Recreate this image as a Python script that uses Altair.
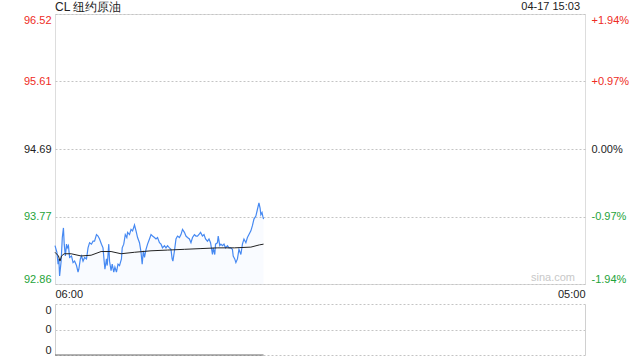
import altair as alt
import pandas as pd

# ---- data ----
minutes = [0, 5, 8, 10, 12, 16, 19, 22, 24, 27, 30, 32, 35, 38, 43, 47, 51, 56, 60, 62,
           66, 69, 73, 77, 82, 86, 90, 95, 99, 103, 108, 112, 116, 121, 125, 128, 130, 134, 136, 140,
           142, 146, 149, 153, 156, 160, 164, 168, 173, 175, 179, 183, 187, 189, 194, 198, 202, 207, 211, 215,
           220, 224, 227, 230, 233, 237, 241, 246, 250, 254, 259, 263, 267, 272, 276, 280, 285, 289, 293, 298,
           302, 305, 307, 311, 315, 319, 324, 328, 332, 337, 341, 345, 350, 354, 358, 363, 367, 371, 376, 379,
           384, 388, 392, 397, 401, 405, 410, 412, 416, 418, 423, 425, 429, 432, 436, 440, 444, 449, 453, 457,
           462, 464, 468, 471, 475, 479, 484, 488, 492, 497, 501, 505, 510, 514, 518, 523, 527, 531, 534, 536,
           539, 541, 543]
prices = [93.38, 93.29, 93.13, 93.20, 92.97, 93.17, 93.49, 93.62, 93.40, 93.24, 93.40, 93.35, 93.38, 93.22, 93.24, 93.15, 93.17, 93.11, 93.02, 93.06,
          93.20, 93.24, 93.17, 93.22, 93.20, 93.35, 93.42, 93.40, 93.44, 93.44, 93.53, 93.51, 93.47, 93.40, 93.35, 93.17, 93.06, 93.20, 93.11, 93.40,
          93.17, 93.04, 93.13, 93.02, 93.09, 93.02, 93.13, 93.11, 93.20, 93.35, 93.40, 93.53, 93.49, 93.56, 93.53, 93.60, 93.58, 93.66, 93.58, 93.49,
          93.42, 93.29, 93.13, 93.31, 93.22, 93.33, 93.40, 93.47, 93.53, 93.51, 93.49, 93.47, 93.49, 93.42, 93.40, 93.35, 93.38, 93.35, 93.38, 93.35,
          93.33, 93.20, 93.17, 93.31, 93.47, 93.51, 93.49, 93.53, 93.60, 93.56, 93.51, 93.49, 93.47, 93.42, 93.49, 93.53, 93.51, 93.51, 93.54, 93.56,
          93.51, 93.53, 93.47, 93.44, 93.47, 93.42, 93.26, 93.35, 93.26, 93.40, 93.42, 93.51, 93.38, 93.40, 93.38, 93.40, 93.35, 93.38, 93.35, 93.35,
          93.33, 93.24, 93.20, 93.15, 93.20, 93.33, 93.26, 93.40, 93.47, 93.42, 93.49, 93.53, 93.58, 93.65, 93.74, 93.78, 93.87, 93.96, 93.89, 93.80,
          93.83, 93.78, 93.74]
avg_minutes = [0, 9, 13, 17, 24, 42, 68, 94, 120, 146, 172, 207, 250, 293, 337, 380, 424, 467, 510, 532, 543]
avg_prices = [93.29, 93.24, 93.17, 93.24, 93.27, 93.27, 93.24, 93.25, 93.30, 93.30, 93.27, 93.29, 93.31, 93.32,
              93.33, 93.34, 93.35, 93.35, 93.36, 93.39, 93.40]
vol_minutes = [0, 543]
vol_values = [0, 0]

price_ticks = [92.86, 93.77, 94.69, 95.61, 96.52]
pct_labels = ["-1.94%", "-0.97%", "0.00%", "+0.97%", "+1.94%"]
x_ticks = [0, 1380]
x_labels = ["06:00", "05:00"]
vol_ticks = [0, 0.5, 1]
title_text = "CL 纽约原油"
stamp_text = "04-17 15:03"
watermark = "sina.com"

# ---- styling ----
FONT = "Liberation Sans"
RED = "#ee2b24"
GREEN = "#1ea33a"
BLACK = "#222222"
BLUE = "#4689f2"
GRID = "#c4c4c4"
FRAME = "#d0d0d0"
W, H_TOP, H_BOT = 530, 270, 51

price_df = pd.DataFrame({"t": minutes, "p": prices})
avg_df = pd.DataFrame({"t": avg_minutes, "p": avg_prices})
vol_df = pd.DataFrame({"t": vol_minutes, "v": vol_values})
one = alt.Data(values=[{"k": 0}])

xscale = alt.Scale(domain=[0, 1380], nice=False, zero=False)
yscale = alt.Scale(domain=[price_ticks[0], price_ticks[-1]], nice=False, zero=False)

label_color = {
    "condition": [
        {"test": "datum.value > 94.7", "value": RED},
        {"test": "datum.value < 94.68", "value": GREEN},
    ],
    "value": BLACK,
}

x_label_expr = "[" + ",".join(f"'{s}'" for s in x_labels) + "][indexof([" + ",".join(str(v) for v in x_ticks) + "], datum.value)]"
pct_label_expr = "[" + ",".join(f"'{s}'" for s in pct_labels) + "][indexof([" + ",".join(str(v) for v in price_ticks) + "], datum.value)]"

x_axis = alt.Axis(values=x_ticks, labelExpr=x_label_expr, labelFlush=True, tickSize=0, domain=False,
                  grid=False, labelPadding=4, labelFontSize=11, labelColor=BLACK, labelFont=FONT, title=None)

left_axis = alt.Axis(values=price_ticks, format=".2f", labelFlush=True, tickSize=0, domain=False,
                     grid=True, gridDash=[2, 2], gridColor=GRID, labelPadding=4, labelFontSize=11,
                     labelFont=FONT, labelColor=label_color, title=None)
right_axis = alt.Axis(values=price_ticks, labelExpr=pct_label_expr, orient="right", labelFlush=True,
                      tickSize=0, domain=False, grid=False, labelPadding=6, labelFontSize=11,
                      labelFont=FONT, labelColor=label_color, title=None)

X = alt.X("t:Q", scale=xscale, axis=x_axis)

base = alt.Chart(price_df)
area = base.mark_area(color="#5b93f5", opacity=0.04).encode(
    x=X,
    y=alt.Y("p:Q", scale=yscale, axis=left_axis),
    y2=alt.datum(price_ticks[0]),
)
line = base.mark_line(color=BLUE, strokeWidth=1.2).encode(
    x=X,
    y=alt.Y("p:Q", scale=yscale, axis=None),
)
avg = alt.Chart(avg_df).mark_line(color=BLACK, strokeWidth=1).encode(
    x=X,
    y=alt.Y("p:Q", scale=yscale, axis=right_axis),
)
title_mark = alt.Chart(one).mark_text(text=title_text, align="left", baseline="middle", fontSize=12,
                                      font=FONT, color=BLACK).encode(x=alt.value(0), y=alt.value(-7))
stamp_mark = alt.Chart(one).mark_text(text=stamp_text, align="right", baseline="middle", fontSize=11,
                                      font=FONT, color=BLACK).encode(x=alt.value(525), y=alt.value(-7))
wm_mark = alt.Chart(one).mark_text(text=watermark, align="right", baseline="middle", fontSize=11,
                                   font=FONT, color="#c8c8c8").encode(x=alt.value(520), y=alt.value(264))

top = alt.layer(area, line, title_mark, stamp_mark, wm_mark, avg).resolve_axis(y="independent").properties(
    width=W, height=H_TOP
)

vscale = alt.Scale(domain=[0, 1], nice=False, zero=True)
vol_left = alt.Axis(values=vol_ticks, labelExpr="'0'", tickSize=0, domain=True, domainColor=FRAME,
                    grid=True, gridDash=[2, 2], gridColor=GRID, labelPadding=4, labelFontSize=11,
                    labelFont=FONT, labelColor=BLACK, title=None, labelFlush=True)
vol_right = alt.Axis(values=vol_ticks, labels=False, ticks=False, domain=True, domainColor=FRAME,
                     grid=False, orient="right", title=None)
vol_line = alt.Chart(vol_df).mark_line(color="#666666", strokeWidth=1).encode(
    x=alt.X("t:Q", scale=xscale, axis=None),
    y=alt.Y("v:Q", scale=vscale, axis=vol_left),
)
vol_edge = alt.Chart(vol_df).mark_line(opacity=0).encode(
    x=alt.X("t:Q", scale=xscale, axis=None),
    y=alt.Y("v:Q", scale=vscale, axis=vol_right),
)
bottom = alt.layer(vol_line, vol_edge).resolve_axis(y="independent").properties(
    width=W, height=H_BOT, view=alt.ViewConfig(stroke=None)
)

chart = alt.vconcat(top, bottom, spacing=3).properties(
    padding={"left": 22, "top": 0, "right": 0, "bottom": 0}
).configure_view(stroke=FRAME).configure(background="white")

chart.save("out.html", embed_options={"renderer": "svg", "actions": False})
